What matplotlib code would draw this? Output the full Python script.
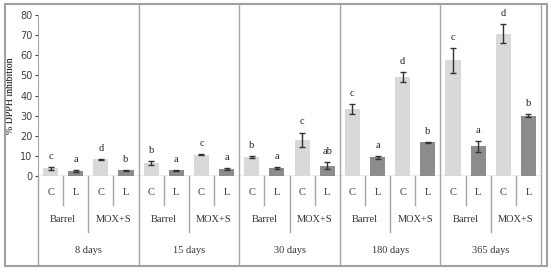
import numpy as np
import matplotlib.pyplot as plt
from matplotlib.patches import Rectangle

days = ['8 days', '15 days', '30 days', '180 days', '365 days']
treatments = ['Barrel', 'MOX+S']
samples = ['C', 'L']

# order per day: Barrel C, Barrel L, MOX+S C, MOX+S L
values = [
    [3.8, 2.3, 8.3, 2.9],
    [6.5, 2.8, 10.6, 3.4],
    [9.2, 4.0, 18.0, 5.2],
    [33.3, 9.2, 49.3, 16.8],
    [57.5, 14.7, 70.8, 30.0],
]
errors = [
    [0.6, 0.5, 0.3, 0.3],
    [1.0, 0.3, 0.2, 0.5],
    [0.5, 0.5, 3.6, 1.8],
    [2.7, 0.8, 2.6, 0.2],
    [6.2, 2.7, 4.6, 0.8],
]
letters = [
    ['c', 'a', 'd', 'b'],
    ['b', 'a', 'c', 'a'],
    ['b', 'a', 'c', 'ab'],
    ['c', 'a', 'd', 'b'],
    ['c', 'a', 'd', 'b'],
]

light = '#d9d9d9'
dark = '#8c8c8c'
sep = '#a6a6a6'
serif = 'Liberation Serif'

fig = plt.figure(figsize=(5.51, 2.69), dpi=100)
ax = fig.add_axes([38 / 551, 1 - 176 / 269, 503 / 551, 161 / 269])

vals = np.array(values).ravel()
errs = np.array(errors).ravel()
x = np.arange(len(vals)) + 0.5
cols = [light, dark] * (len(vals) // 2)
ax.bar(x, vals, width=0.6, color=cols, zorder=2)
ax.errorbar(x, vals, yerr=errs, fmt='none', ecolor='#333333', elinewidth=1,
            capsize=2, capthick=1, zorder=3)

lab = np.array(letters).ravel()
for xi, v, e, t in zip(x, vals, errs, lab):
    ax.text(xi, v + e + 3, t, ha='center', va='bottom', fontsize=7.5,
            family=serif, color='#222222')

ax.set_xlim(0, 20)
ax.set_ylim(0, 80)
ax.set_yticks(range(0, 90, 10))
ax.tick_params(axis='y', labelsize=7, length=2, colors='#404040', pad=2)
ax.set_xticks([])
for s in ['top', 'right', 'bottom']:
    ax.spines[s].set_visible(False)
ax.spines['left'].set_color(sep)
ax.axhline(0, color=sep, lw=1, zorder=1)
ax.set_ylabel('% DPPH inhibition', family=serif, fontsize=7, labelpad=4)

tr = ax.get_xaxis_transform()
# left axis line extended down
ax.plot([0, 0], [0, -0.547], transform=tr, color=sep, lw=1, clip_on=False)
for i in range(len(vals)):
    xi = i + 0.5
    ax.text(xi, -0.1, samples[i % 2], transform=tr, ha='center', va='center',
            fontsize=7.5, family=serif, color='#333333')
    if i % 2 == 1:
        ax.plot([i, i], [0, -0.18], transform=tr, color=sep, lw=1, clip_on=False)
for j in range(len(days) * 2):
    xc = j * 2 + 1
    ax.text(xc, -0.273, treatments[j % 2], transform=tr, ha='center', va='center',
            fontsize=7.5, family=serif, color='#333333')
    if j % 2 == 1:
        ax.plot([j * 2, j * 2], [0, -0.35], transform=tr, color=sep, lw=1, clip_on=False)
for k, d in enumerate(days):
    ax.text(k * 4 + 2, -0.46, d, transform=tr, ha='center', va='center',
            fontsize=7.5, family=serif, color='#333333')
    ax.plot([k * 4 + 4, k * 4 + 4], [1.068, -0.547], transform=tr, color=sep,
            lw=1, clip_on=False)

fig.patches.append(Rectangle((5 / 551, 3 / 269), 542 / 551, 262 / 269,
                             transform=fig.transFigure, fill=False,
                             edgecolor='#a0a0a0', lw=1.5))

fig.savefig('out.png', dpi=100)
